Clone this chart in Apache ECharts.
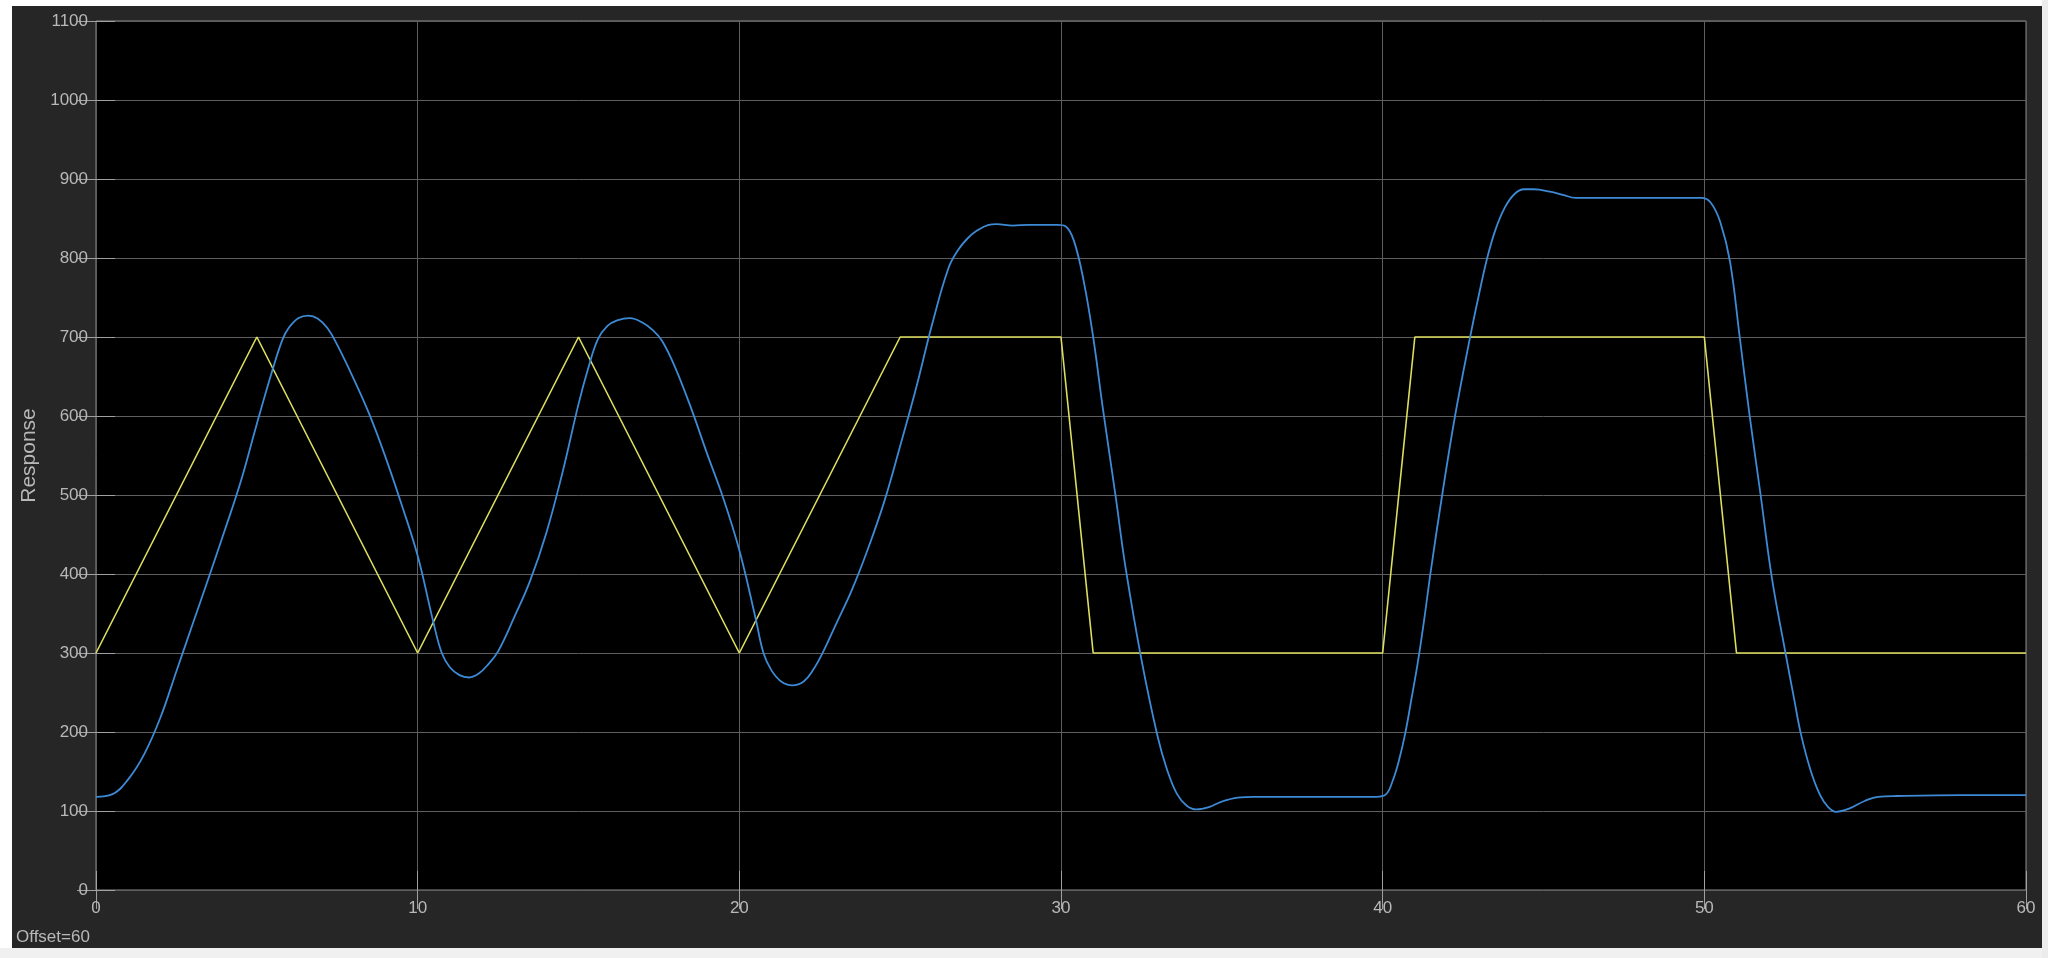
<!DOCTYPE html>
<html>
<head>
<meta charset="utf-8">
<script src="https://cdn.jsdelivr.net/npm/echarts@6/dist/echarts.min.js"></script>
<style>
  html, body { margin: 0; padding: 0; width: 2048px; height: 958px; background: #ffffff; overflow: hidden; }
  #bottomStrip { position: absolute; left: 0; top: 948px; width: 2048px; height: 10px; background: #f0f0f0; }
  #rightStrip { position: absolute; left: 2042px; top: 0; width: 6px; height: 958px; background: #ececec; }
  #chart { position: absolute; left: 12px; top: 6px; width: 2030px; height: 942px; background: #262626; }
</style>
</head>
<body>
<div id="bottomStrip"></div>
<div id="rightStrip"></div>
<div id="chart"></div>
<script>
// Reference (setpoint) signal — yellow
var refTime  = [0, 5, 10, 15, 20, 25, 30, 31, 40, 41, 50, 51, 60];
var refValue = [300, 700, 300, 700, 300, 700, 700, 300, 300, 700, 700, 300, 300];

// Measured response — blue
var respTime = [0, 0.5, 1.0, 1.5, 2.0, 2.5, 3.0, 3.5, 4.0, 4.5, 5.0, 5.5, 5.8, 6.0, 6.3, 6.6, 6.9, 7.2, 7.5, 8.0, 8.5, 9.0, 9.5, 10.0, 10.5, 10.75, 11.0, 11.3, 11.6, 11.9, 12.2, 12.5, 13.0, 13.5, 14.0, 14.5, 15.0, 15.3, 15.6, 15.9, 16.2, 16.6, 17.0, 17.3, 17.6, 18.0, 18.5, 19.0, 19.5, 20.0, 20.5, 20.75, 21.0, 21.3, 21.65, 22.0, 22.3, 22.6, 23.0, 23.5, 24.0, 24.5, 25.0, 25.5, 26.0, 26.5, 26.8, 27.1, 27.4, 27.75, 28.0, 28.5, 29.0, 29.5, 29.9, 30.15, 30.4, 30.7, 31.0, 31.3, 31.7, 32.0, 32.5, 33.0, 33.3, 33.6, 33.9, 34.2, 34.6, 35.0, 35.5, 36.0, 38.0, 39.8, 40.1, 40.3, 40.5, 40.7, 40.9, 41.1, 41.3, 41.5, 41.85, 42.25, 42.7, 43.0, 43.25, 43.5, 43.8, 44.1, 44.4, 44.7, 45.2, 45.6, 46.0, 48.0, 49.9, 50.2, 50.5, 50.8, 51.1, 51.4, 51.75, 52.1, 52.5, 52.8, 53.0, 53.3, 53.6, 53.85, 54.1, 54.5, 55.0, 55.4, 56.0, 58.0, 60.0];
var respValue = [118, 121, 140, 172, 218, 277, 336, 395, 455, 517, 590, 660, 697, 712, 724, 727, 723, 711, 690, 648, 602, 548, 488, 423, 337, 300, 282, 272, 269, 274, 286, 302, 345, 392, 452, 528, 615, 660, 697, 714, 721, 724, 718, 709, 695, 662, 610, 552, 496, 430, 345, 300, 278, 264, 259, 264, 279, 301, 336, 380, 432, 491, 562, 636, 717, 787, 810, 825, 835, 842, 843, 841, 842, 842, 842, 840, 822, 772, 700, 610, 498, 410, 292, 195, 152, 122, 107, 102, 105, 112, 117, 118, 118, 118, 121, 137, 163, 198, 243, 290, 345, 405, 500, 600, 696, 755, 800, 835, 864, 881, 887, 887, 884, 880, 876, 876, 876, 870, 845, 795, 700, 603, 500, 395, 305, 240, 198, 152, 120, 105, 99, 103, 113, 118, 119, 120, 120];

var xMin = 0, xMax = 60, xStep = 10;
var yMin = 0, yMax = 1100, yStep = 100;
var yName = 'Response';
var offsetText = 'Offset=60';

function pairs(xs, ys) { return xs.map(function (x, i) { return [x, ys[i]]; }); }

var font = '"Liberation Sans", Arial, Helvetica, sans-serif';
var labelColor = '#b8b8b8';
var tickStyle = { show: true, inside: true, length: 19, lineStyle: { color: '#a0a0a0', width: 1 } };
function plain(v) { return String(v); }

var chart = echarts.init(document.getElementById('chart'), null, { renderer: 'canvas' });
chart.setOption({
  animation: false,
  backgroundColor: 'transparent',
  textStyle: { fontFamily: font },
  grid: {
    left: 84, top: 15, width: 1930, height: 869,
    containLabel: false, outerBoundsMode: 'none',
    show: true, backgroundColor: '#000000', borderColor: '#8a8a8a', borderWidth: 1
  },
  xAxis: [
    {
      type: 'value', min: xMin, max: xMax, interval: xStep, position: 'bottom',
      axisLine: { show: false },
      axisTick: tickStyle,
      axisLabel: { color: labelColor, fontSize: 17, margin: 10, fontFamily: font, formatter: plain },
      splitLine: { show: true, lineStyle: { color: '#5e5e5e', width: 1 } }
    },
    {
      type: 'value', min: xMin, max: xMax, interval: xStep, position: 'top',
      axisLine: { show: false }, axisTick: tickStyle,
      axisLabel: { show: false }, splitLine: { show: false }
    }
  ],
  yAxis: [
    {
      type: 'value', min: yMin, max: yMax, interval: yStep, position: 'left',
      name: yName, nameLocation: 'middle', nameGap: 52, nameRotate: 90,
      nameTextStyle: { color: labelColor, fontSize: 21, fontFamily: font },
      axisLine: { show: false },
      axisTick: tickStyle,
      axisLabel: { color: labelColor, fontSize: 17, margin: 8, fontFamily: font, formatter: plain },
      splitLine: { show: true, lineStyle: { color: '#5e5e5e', width: 1 } }
    },
    {
      type: 'value', min: yMin, max: yMax, interval: yStep, position: 'right',
      axisLine: { show: false }, axisTick: tickStyle,
      axisLabel: { show: false }, splitLine: { show: false }
    }
  ],
  graphic: [
    {
      type: 'text', left: 4, top: 923,
      style: { text: offsetText, fill: labelColor, fontSize: 17, fontFamily: font }
    }
  ],
  series: [
    {
      type: 'line', name: 'Reference', data: pairs(refTime, refValue),
      showSymbol: false, symbol: 'none',
      lineStyle: { color: '#dede5e', width: 1.6 }, z: 3
    },
    {
      type: 'line', name: 'Response', data: pairs(respTime, respValue),
      showSymbol: false, symbol: 'none', smooth: 0.4,
      lineStyle: { color: '#3d8ad6', width: 1.8 }, z: 4
    }
  ]
});
</script>
</body>
</html>
